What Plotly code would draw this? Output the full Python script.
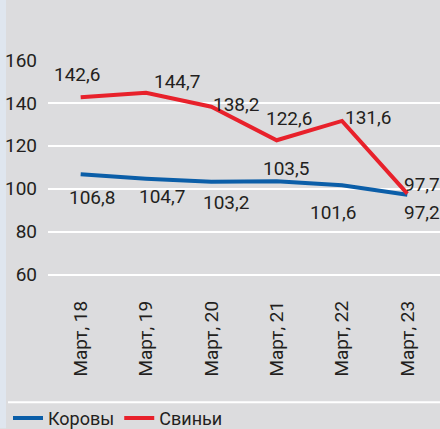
import plotly.graph_objects as go

categories = ["Март, 18", "Март, 19", "Март, 20", "Март, 21", "Март, 22", "Март, 23"]
cows = [106.8, 104.7, 103.2, 103.5, 101.6, 97.2]
pigs = [142.6, 144.7, 138.2, 122.6, 131.6, 97.7]
cow_labels = ["106,8", "104,7", "103,2", "103,5", "101,6", "97,2"]
pig_labels = ["142,6", "144,7", "138,2", "122,6", "131,6", "97,7"]

# label offsets (pixels) - styling
cow_off = [(11, -23), (16, -18), (15, -21), (9, 13), (-9, -27), (15, -18)]
pig_off = [(-4, 23), (31, 11), (25, 2), (12, 22), (26, 3), (15, 9)]

FONT = "Roboto, sans-serif"
TXT = "#231f20"
BG = "#dcdcde"
BLUE = "#0b5ea8"
RED = "#e8212b"

fig = go.Figure()
fig.add_trace(go.Scatter(x=categories, y=cows, mode="lines", name="Коровы",
                         line=dict(color=BLUE, width=4)))
fig.add_trace(go.Scatter(x=categories, y=pigs, mode="lines", name="Свиньи",
                         line=dict(color=RED, width=4)))

ann = []
for c, v, t, (dx, dy) in zip(categories, cows, cow_labels, cow_off):
    ann.append(dict(x=c, y=v, text=t, showarrow=False, xshift=dx, yshift=dy,
                    font=dict(family=FONT, size=19, color=TXT)))
for c, v, t, (dx, dy) in zip(categories, pigs, pig_labels, pig_off):
    ann.append(dict(x=c, y=v, text=t, showarrow=False, xshift=dx, yshift=dy,
                    font=dict(family=FONT, size=19, color=TXT)))

W, H = 440, 429
L, T, B = 48, 60, 132.5
ph = H - T - B
pw = W - L

def px(x):
    return (x - L) / pw

def py(y):
    return (H - B - y) / ph

shapes = [
    dict(type="rect", xref="paper", yref="paper", x0=px(0), x1=px(6), y0=py(H), y1=py(-5),
         fillcolor="#dfe6ef", line=dict(width=0), layer="below"),
    dict(type="line", xref="paper", yref="paper", x0=px(8), x1=px(440), y0=py(403), y1=py(403),
         line=dict(color="white", width=2)),
]

fig.update_layout(
    width=W, height=H,
    margin=dict(l=L, r=0, t=T, b=B, autoexpand=False),
    paper_bgcolor=BG, plot_bgcolor=BG,
    showlegend=True,
    legend=dict(orientation="h", x=px(8), xanchor="left", y=py(419), yanchor="middle",
                font=dict(family=FONT, size=18, color=TXT), bgcolor="rgba(0,0,0,0)",
                itemwidth=30, tracegroupgap=0),
    annotations=ann,
    shapes=shapes,
    xaxis=dict(type="category", range=[-0.5, 5.5], showgrid=False, zeroline=False,
               showline=False, tickangle=-90, ticks="", automargin=False,
               tickfont=dict(family=FONT, size=19, color=TXT)),
    yaxis=dict(range=[50, 160], dtick=20, tick0=0, showgrid=True, gridcolor="white",
               gridwidth=1.5, zeroline=False, showline=False, ticks="", automargin=False,
               ticklabelstandoff=10,
               tickfont=dict(family=FONT, size=19, color=TXT)),
)

fig.write_html("out.html", config={"displayModeBar": False},
               post_script="document.body.style.margin='0';document.body.style.padding='0';")
